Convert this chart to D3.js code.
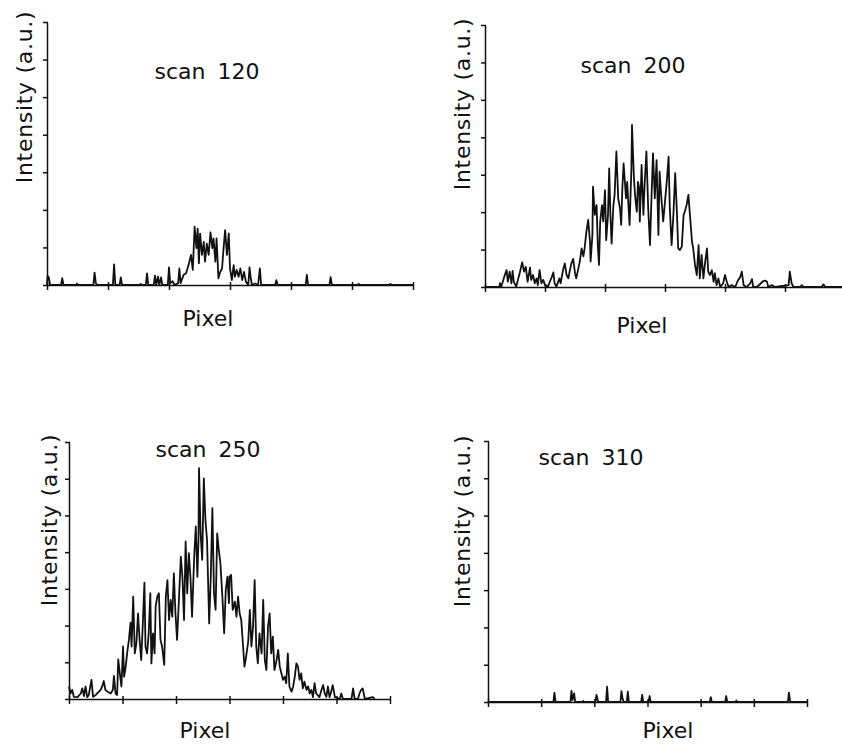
<!DOCTYPE html>
<html>
<head>
<meta charset="utf-8">
<script src="https://cdn.jsdelivr.net/npm/d3@7"></script>
<style>
  body { margin: 0; background: #fff; }
  text { font-family: "DejaVu Sans", sans-serif; fill: #111; }
</style>
</head>
<body>
<svg width="842" height="747"></svg>
<script>
var svg = d3.select('svg');

// tick positions (pixel / a.u.), no labels in the original
var xTicks = [0, 100, 200, 300, 400, 500, 600];
var yTicks = [0, 1, 2, 3, 4, 5, 6, 7];

// [pixel, intensity]
var scan120 = [[0,0],[1,0.24],[3,0.2],[5,0],[23,0],[25,0.18],[27,0],[48,0],[49,0.04],[50,0],[76,0],[78,0.33],[80,0.05],[82,0],
  [108,0],[110,0.55],[112,0],[119,0],[121,0.2],[123,0],[152,0],[153,0.03],[155,0],[162,0],[164,0.31],[166,0],[175,0],[177,0.25],
  [179,0],[182,0.22],[184,0],[187,0.2],[189,0],[198,0],[200,0.47],[202,0.05],[206,0.1],[209,0],[215,0.05],[217,0.44],[219,0.05],
  [224,0.27],[228,0.31],[232,0.53],[236,0.8],[239,0.4],[242,1.55],[245,0.98],[247,1.5],[249,0.58],[251,1.37],[254,0.8],[257,1.15],
  [259,0.62],[262,1.1],[265,0.8],[268,1.4],[271,0.98],[273,1.24],[276,0.62],[278,1.24],[281,0.18],[284,0.35],[287,0.44],[289,0.89],
  [292,1.46],[295,0.8],[298,1.37],[300,0.44],[303,0.13],[306,0.53],[308,0.22],[311,0.4],[314,0.22],[317,0.44],[320,0.13],[323,0.35],
  [326,0.09],[330,0],[332,0.47],[334,0.18],[336,0],[341,0.04],[346,0],[349,0.44],[351,0],[374,0],[376,0.13],[378,0],[424,0],
  [426,0.27],[428,0],[463,0],[465,0.21],[467,0],[509,0],[511,0.03],[513,0],[561,0],[563,0.03],[565,0],[600,0]];

var scan200 = [[0,0],[24,0],[25,0.1],[27,0],[33,0.32],[36,0.45],[38,0.14],[41,0.41],[44,0.1],[46,0.43],[48,0.14],[52,0.01],
  [57,0.32],[59,0.45],[62,0.66],[65,0.41],[68,0.54],[71,0.14],[75,0.52],[77,0.19],[80,0.32],[83,0.1],[86,0.23],[88,0.05],[91,0.45],
  [94,0.1],[97,0.19],[100,0.05],[105,0.01],[108,0.14],[111,0.25],[114,0.39],[116,0.1],[119,0.01],[124,0.23],[126,0.1],[130,0.45],
  [133,0.63],[136,0.32],[139,0.23],[141,0.41],[144,0.63],[147,0.75],[150,0.37],[152,0.23],[155,0.45],[158,0.68],[161,1.03],[164,0.82],
  [166,1.03],[169,1.48],[172,1.79],[175,1.21],[176,0.68],[179,1.39],[180,2.68],[183,1.93],[186,2.19],[188,1.12],[190,0.59],[192,1.75],
  [195,2.19],[197,1.75],[200,2.59],[202,1.25],[205,1.93],[207,3.17],[209,1.93],[211,1.16],[214,2.19],[216,2.46],[219,3.62],[222,2.37],
  [225,2.1],[227,1.66],[229,2.68],[231,3.3],[235,2.37],[237,2.81],[239,2.19],[241,1.66],[244,3.17],[245,4.33],[248,2.99],[250,2.46],
  [253,2.01],[255,2.81],[257,2.64],[258,1.75],[261,3.26],[264,1.93],[266,2.73],[269,3.62],[272,2.1],[275,1.12],[278,2.64],[280,3.57],
  [283,2.37],[286,3.39],[289,1.39],[291,3.08],[294,2.37],[297,1.75],[303,2.82],[306,3.48],[308,2.1],[311,1.12],[314,1.93],[317,3.04],
  [320,1.93],[322,1.03],[325,0.99],[328,1.08],[331,1.93],[333,2.01],[336,2.19],[339,2.46],[342,1.84],[345,1.21],[347,1.03],[350,0.59],
  [353,0.32],[356,1.12],[358,0.23],[361,0.86],[364,0.23],[367,0.68],[370,1.03],[372,0.41],[375,0.32],[378,0.45],[381,0.14],[383,0.37],
  [386,0.05],[389,0.23],[392,0],[397,0.1],[400,0.32],[403,0.14],[406,0],[411,0.05],[417,0],[422,0.19],[425,0.25],[428,0.41],[431,0.05],
  [436,0],[442,0.1],[445,0.21],[447,0],[453,0],[464,0.16],[467,0.17],[470,0.14],[472,0],[478,0.05],[483,0],[506,0.05],[508,0.41],
  [511,0.1],[514,0],[525,0],[528,0.05],[531,0],[561,0],[564,0.07],[567,0],[600,0]];

var scan250 = [[0,0.34],[3,0.15],[6,0.25],[9,0.06],[16,0.05],[22,0.15],[25,0.29],[28,0.08],[31,0.34],[34,0.05],[37,0.11],[42,0.52],
  [45,0.06],[50,0.11],[56,0.2],[59,0.25],[62,0.34],[65,0.49],[68,0.25],[72,0.2],[78,0.15],[82,0.25],[84,0.63],[87,0.15],[90,0.11],
  [92,1.08],[95,0.7],[98,0.34],[101,1.43],[103,0.61],[106,0.88],[109,1.29],[112,1.61],[115,2.08],[117,1.43],[120,2.79],[123,1.24],
  [126,1.52],[129,2.33],[132,1.61],[135,1.06],[138,2.06],[141,3.17],[143,1.43],[146,1.24],[149,1.79],[152,2.88],[154,0.97],[157,1.79],
  [160,1.24],[162,2.52],[165,2.79],[168,2.88],[171,1.61],[174,1.43],[178,0.93],[181,2.79],[184,3.24],[187,2.15],[190,2.7],[193,2.24],
  [196,3.42],[199,2.33],[202,1.61],[206,2.88],[209,3.88],[212,3.33],[215,2.15],[218,4.29],[221,2.88],[224,3.97],[227,3.33],[230,2.24],
  [234,3.88],[237,4.7],[240,3.33],[242,4.33],[243,6.29],[246,4.51],[249,3.79],[252,6.01],[255,4.88],[258,4.33],[262,2.06],[265,3.33],
  [268,5.2],[271,2.88],[274,2.43],[277,4.51],[280,4.06],[283,3.7],[287,2.7],[290,1.79],[293,2.97],[296,3.33],[299,2.61],[300,3.33],
  [303,3.38],[306,2.43],[310,2.65],[313,2.24],[316,2.79],[319,2.33],[322,2.15],[325,1.52],[328,0.88],[331,1.15],[335,1.56],[338,2.43],
  [341,1.43],[344,1.97],[347,3.24],[350,1.43],[353,0.97],[356,1.79],[360,1.24],[363,2.7],[366,1.06],[369,0.79],[372,1.97],[375,2.33],
  [378,1.24],[381,1.7],[384,0.79],[388,1.06],[391,1.34],[394,0.88],[397,0.7],[400,0.52],[403,0.61],[406,0.43],[409,1.24],[412,0.34],
  [416,0.2],[419,0.34],[422,0.61],[425,0.97],[428,0.88],[431,0.52],[434,0.7],[437,0.29],[440,0.47],[444,0.25],[447,0.34],[450,0.15],
  [453,0.25],[456,0.05],[459,0.43],[462,0.15],[468,0.05],[472,0.25],[475,0.38],[478,0.15],[481,0.06],[484,0.34],[487,0.05],[490,0.2],
  [493,0.38],[497,0.05],[506,0],[509,0.15],[512,0],[528,0],[531,0.29],[534,0],[540,0],[543,0.15],[546,0.25],[549,0.29],[553,0],
  [568,0.05],[571,0]];

var scan310 = [[0,0],[123,0],[125,0.25],[127,0],[155,0],[157,0.3],[159,0.05],[162,0.23],[164,0],[178,0],[179,0.03],[180,0],
  [202,0],[204,0.19],[206,0.08],[207,0],[222,0],[224,0.41],[226,0],[249,0],[251,0.29],[253,0.1],[255,0],[261,0],[263,0.28],[265,0],
  [288,0],[290,0.19],[292,0],[302,0],[304,0.16],[306,0],[417,0],[419,0.13],[421,0],[446,0],[448,0.16],[450,0],[466,0],[467,0.04],
  [468,0],[564,0],[566,0.25],[568,0.03],[570,0],[600,0]];

// layout of each panel
var panels = [
  {data: scan120, title: 'scan 120', x0: 47, x1: 413, yTop: 22, yBot: 285, tx: 207, ty: 79, lx: 32, ly: 97, px: 208, py: 326},
  {data: scan200, title: 'scan 200', x0: 485, x1: 845, yTop: 25, yBot: 287, tx: 633, ty: 73, lx: 470, ly: 104, px: 642, py: 333},
  {data: scan250, title: 'scan 250', x0: 69, x1: 390, yTop: 442, yBot: 699, tx: 208, ty: 457, lx: 57, ly: 520, px: 205, py: 738},
  {data: scan310, title: 'scan 310', x0: 488, x1: 807, yTop: 441, yBot: 702, tx: 591, ty: 465, lx: 470, ly: 521, px: 668, py: 738}
];

function drawPanel(p){
  var x = d3.scaleLinear().domain([0, 600]).range([p.x0, p.x1]);
  var y = d3.scaleLinear().domain([0, 7]).range([p.yBot, p.yTop]);
  var g = svg.append('g');

  var xa = g.append('g')
    .attr('transform', 'translate(0,' + p.yBot + ')')
    .call(d3.axisBottom(x).tickValues(xTicks).tickFormat('').tickSize(5).tickSizeOuter(0));
  xa.selectAll('.tick line').attr('y1', -3);

  var ya = g.append('g')
    .attr('transform', 'translate(' + p.x0 + ',0)')
    .call(d3.axisLeft(y).tickValues(yTicks).tickFormat('').tickSize(4).tickSizeOuter(0));
  ya.selectAll('.tick line').attr('x1', 1);

  g.selectAll('.domain, .tick line')
    .attr('stroke', '#111')
    .attr('stroke-width', 1.5);

  var line = d3.line()
    .x(function(d){ return x(d[0]); })
    .y(function(d){ return y(d[1]); });

  g.append('path')
    .datum(p.data)
    .attr('d', line)
    .attr('fill', 'none')
    .attr('stroke', '#111')
    .attr('stroke-width', 1.8)
    .attr('stroke-linejoin', 'round');

  g.append('text')
    .attr('x', p.tx).attr('y', p.ty)
    .attr('text-anchor', 'middle')
    .style('font-size', '22px')
    .style('word-spacing', '5px')
    .text(p.title);

  g.append('text')
    .attr('transform', 'translate(' + p.lx + ',' + p.ly + ') rotate(-90)')
    .attr('text-anchor', 'middle')
    .style('font-size', '22px')
    .style('letter-spacing', '0.7px')
    .text('Intensity (a.u.)');

  g.append('text')
    .attr('x', p.px).attr('y', p.py)
    .attr('text-anchor', 'middle')
    .style('font-size', '22px')
    .text('Pixel');
}

panels.forEach(drawPanel);
</script>
</body>
</html>
